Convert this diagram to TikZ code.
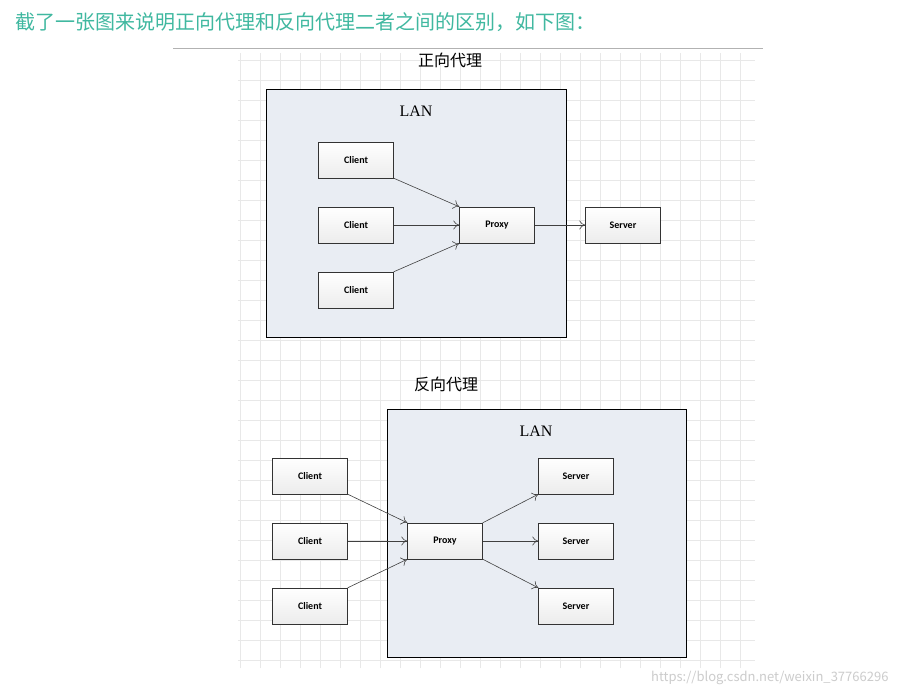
\documentclass[tikz,border=0pt]{standalone}
\usepackage{fontspec}
\setmainfont{Liberation Serif}
\newfontfamily\cjk{Noto Sans CJK SC}
\newfontfamily\boxfont{Carlito}
\usetikzlibrary{arrows.meta}
\definecolor{headteal}{RGB}{64,184,160}
\definecolor{lanfill}{RGB}{233,237,243}
\begin{document}
\begin{tikzpicture}[x=1pt, y=-1pt,
        lan/.style={rectangle, draw, fill=lanfill, line width=0.8pt, anchor=north west},
        box/.style={rectangle, draw=black!80, top color=white, bottom color=gray!15, minimum width=75pt, minimum height=36pt, font=\boxfont\bfseries\fontsize{10}{11}\selectfont},
        label/.style={font=\fontsize{16}{17}\selectfont},
        arrow/.style={-{To[length=6pt, width=9pt]}, black!75, line width=0.6pt}
    ]
    \useasboundingbox (0,0) rectangle (900,696);
    \fill[white] (0,0) rectangle (900,696);

    % grid background
    \draw[gray!18, line width=0.6pt, step=20pt] (238,53) grid (755,668);
    \draw[gray!60] (173,48) -- (763,48);

    % heading and watermark
    \node[anchor=west, font=\cjk\fontsize{20}{22}\selectfont, text=headteal] (head) at (12,22) {截了一张图来说明正向代理和反向代理二者之间的区别，如下图：};
    \node[anchor=east, font=\cjk\fontsize{13}{14}\selectfont, text=gray!40] (mark) at (892,678) {https://blog.csdn.net/weixin\_37766296};

    % Forward proxy
    \node[label, font=\cjk\fontsize{16}{17}\selectfont] (ftitle) at (450,60) {正向代理};
    \node[lan, minimum width=300pt, minimum height=248pt] (flan) at (266,89) {};
    \node[label] (flanlabel) at (416,111) {LAN};
    \node[box] (fc1) at (356,160) {Client};
    \node[box] (fc2) at (356,225) {Client};
    \node[box] (fc3) at (356,290) {Client};
    \node[box] (fproxy) at (497,225) {Proxy};
    \node[box] (fserver) at (623,225) {Server};

    \draw[arrow] (fc1.south east) -- (fproxy.north west);
    \draw[arrow] (fc2) -- (fproxy);
    \draw[arrow] (fc3.north east) -- (fproxy.south west);
    \draw[arrow] (fproxy) -- (fserver);

    % Reverse proxy
    \node[label, font=\cjk\fontsize{16}{17}\selectfont] (rtitle) at (446,384) {反向代理};
    \node[lan, minimum width=299pt, minimum height=248pt] (rlan) at (387,409) {};
    \node[label] (rlanlabel) at (536,431) {LAN};
    \node[box] (rc1) at (310,476) {Client};
    \node[box] (rc2) at (310,541) {Client};
    \node[box] (rc3) at (310,606) {Client};
    \node[box] (rproxy) at (445,541) {Proxy};
    \node[box] (rs1) at (576,476) {Server};
    \node[box] (rs2) at (576,541) {Server};
    \node[box] (rs3) at (576,606) {Server};

    \draw[arrow] (rc1.south east) -- (rproxy.north west);
    \draw[arrow] (rc2) -- (rproxy);
    \draw[arrow] (rc3.north east) -- (rproxy.south west);
    \draw[arrow] (rproxy.north east) -- (rs1.south west);
    \draw[arrow] (rproxy) -- (rs2);
    \draw[arrow] (rproxy.south east) -- (rs3.north west);

\end{tikzpicture}
\end{document}
